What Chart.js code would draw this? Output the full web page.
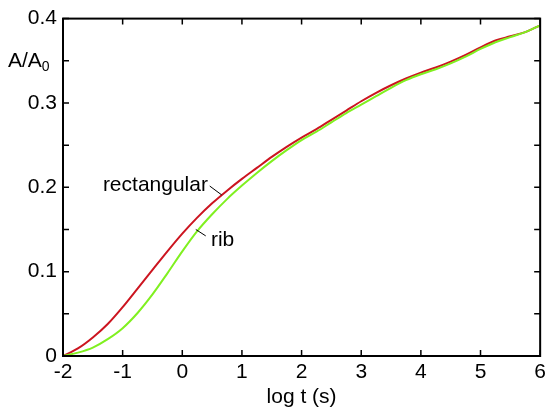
<!DOCTYPE html>
<html>
<head>
<meta charset="utf-8">
<script src="https://cdn.jsdelivr.net/npm/chart.js@4"></script>
<style>
  html, body { margin: 0; padding: 0; background: #fff; }
  #wrap { width: 550px; height: 418px; }
</style>
</head>
<body>
<div id="wrap"><canvas id="chart"></canvas></div>
<script>
// log t values (s)
let logT = [-2, -1.75, -1.5, -1.25, -1, -0.75, -0.5, -0.25, 0, 0.25, 0.5, 0.75, 1, 1.25, 1.5, 1.75,
    2, 2.25, 2.5, 2.75, 3, 3.25, 3.5, 3.75, 4, 4.25, 4.5, 4.75, 5, 5.25, 5.5, 5.75, 6];

// A/A0, rectangular channel
let rectangular = [0.000, 0.009, 0.022, 0.038, 0.058, 0.080, 0.102, 0.124, 0.145, 0.164, 0.181, 0.196,
    0.210, 0.223, 0.236, 0.248, 0.259, 0.269, 0.280, 0.291, 0.302, 0.312, 0.321, 0.329, 0.336, 0.342,
    0.349, 0.357, 0.366, 0.374, 0.379, 0.384, 0.392];

// A/A0, rib channel
let rib = [0.000, 0.004, 0.010, 0.020, 0.033, 0.051, 0.073, 0.098, 0.124, 0.148, 0.168, 0.186,
    0.202, 0.217, 0.231, 0.244, 0.256, 0.266, 0.277, 0.288, 0.298, 0.308, 0.318, 0.327, 0.334, 0.340,
    0.347, 0.355, 0.364, 0.372, 0.378, 0.384, 0.392];

let xTicks = [-2, -1, 0, 1, 2, 3, 4, 5, 6];
let yTicks = [0, 0.05, 0.1, 0.15, 0.2, 0.25, 0.3, 0.35, 0.4];

let fontFamily = "'Liberation Sans', Arial, sans-serif";

function points(ys) {
    return logT.map((x, i) => ({ x: x, y: ys[i] }));
}

// frame, inward ticks on all sides, y label and curve labels
let framePlugin = {
    id: "frame",
    afterDraw(chart) {
        let ctx = chart.ctx;
        let a = chart.chartArea;
        let xs = chart.scales.x;
        let ys = chart.scales.y;
        ctx.save();
        ctx.strokeStyle = "#000";
        ctx.lineWidth = 2;
        ctx.strokeRect(a.left, a.top, a.right - a.left, a.bottom - a.top);
        ctx.lineWidth = 1.5;
        ctx.beginPath();
        xTicks.forEach(v => {
            let px = xs.getPixelForValue(v);
            ctx.moveTo(px, a.bottom); ctx.lineTo(px, a.bottom - 6);
            ctx.moveTo(px, a.top); ctx.lineTo(px, a.top + 6);
        });
        yTicks.forEach(v => {
            let py = ys.getPixelForValue(v);
            ctx.moveTo(a.left, py); ctx.lineTo(a.left + 6, py);
            ctx.moveTo(a.right, py); ctx.lineTo(a.right - 6, py);
        });
        ctx.stroke();

        // y axis label A/A0
        ctx.fillStyle = "#000";
        ctx.textBaseline = "alphabetic";
        ctx.textAlign = "left";
        ctx.font = "21px " + fontFamily;
        ctx.fillText("A/A", 8, 67);
        let w = ctx.measureText("A/A").width;
        ctx.font = "14px " + fontFamily;
        ctx.fillText("0", 8 + w, 71);

        // curve labels with leader lines
        ctx.font = "21px " + fontFamily;
        ctx.textBaseline = "middle";
        ctx.textAlign = "right";
        ctx.fillText("rectangular", xs.getPixelForValue(0.43), ys.getPixelForValue(0.2025));
        ctx.textAlign = "left";
        ctx.fillText("rib", xs.getPixelForValue(0.48), ys.getPixelForValue(0.137));
        ctx.lineWidth = 1;
        ctx.beginPath();
        ctx.moveTo(xs.getPixelForValue(0.46), ys.getPixelForValue(0.2015));
        ctx.lineTo(xs.getPixelForValue(0.66), ys.getPixelForValue(0.191));
        ctx.moveTo(xs.getPixelForValue(0.226), ys.getPixelForValue(0.150));
        ctx.lineTo(xs.getPixelForValue(0.393), ys.getPixelForValue(0.1424));
        ctx.stroke();
        ctx.restore();
    }
};

let chartData = {
    datasets: [{
        label: "rib",
        data: points(rib),
        borderColor: "#80f020",
        borderWidth: 2,
        pointRadius: 0,
        cubicInterpolationMode: "monotone",
        fill: false
    }, {
        label: "rectangular",
        data: points(rectangular),
        borderColor: "#cc1520",
        borderWidth: 2,
        pointRadius: 0,
        cubicInterpolationMode: "monotone",
        fill: false
    }]
};

let chartOptions = {
    responsive: true,
    maintainAspectRatio: false,
    animation: false,
    layout: { padding: { top: 18, right: 9, left: 0, bottom: 0 } },
    plugins: {
        legend: { display: false },
        tooltip: { enabled: false }
    },
    scales: {
        x: {
            type: "linear",
            min: -2,
            max: 6,
            afterFit: s => { s.height = 62; },
            afterBuildTicks: s => { s.ticks = xTicks.map(v => ({ value: v })); },
            grid: { display: false, drawTicks: false },
            border: { display: false },
            ticks: {
                color: "#000",
                padding: 4,
                maxRotation: 0,
                font: { family: fontFamily, size: 21 },
                callback: v => String(v)
            },
            title: {
                display: true,
                text: "log t (s)",
                color: "#000",
                padding: { top: 2, bottom: 8 },
                font: { family: fontFamily, size: 21 }
            }
        },
        y: {
            min: 0,
            max: 0.4,
            afterFit: s => { s.width = 63; },
            afterBuildTicks: s => { s.ticks = yTicks.map(v => ({ value: v })); },
            grid: { display: false, drawTicks: false },
            border: { display: false },
            ticks: {
                color: "#000",
                padding: 6,
                font: { family: fontFamily, size: 21 },
                callback: v => {
                    let t = Math.round(v * 10);
                    return Math.abs(v * 10 - t) < 1e-6 ? String(t / 10) : "";
                }
            }
        }
    }
};

let chart = new Chart(document.getElementById("chart"), {
    type: "line",
    data: chartData,
    options: chartOptions,
    plugins: [framePlugin]
});
</script>
</body>
</html>
